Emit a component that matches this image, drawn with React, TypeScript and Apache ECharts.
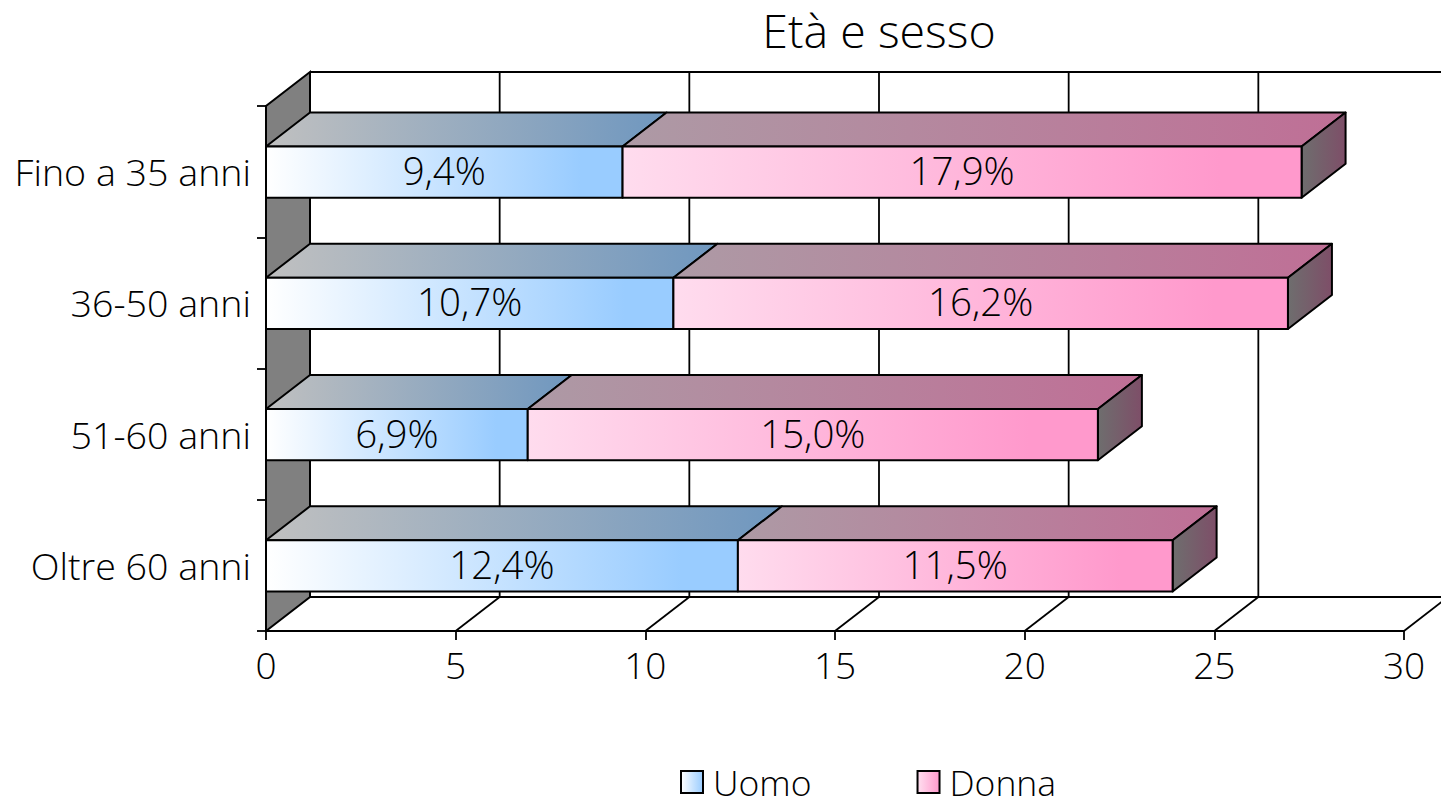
import React, { useEffect, useRef } from "react";
import * as echarts from "echarts";

const titleText = "Età e sesso";
const categories = ["Fino a 35 anni", "36-50 anni", "51-60 anni", "Oltre 60 anni"];
const uomo = [9.4, 10.74, 6.9, 12.44];
const donna = [17.9, 16.2, 15.03, 11.46];
const xTicks = [0, 5, 10, 15, 20, 25, 30];
const FONT = "Open Sans";
const WEIGHT = 300;
const DX = 44;
const DY = 34;
const BAR_RATIO = 0.39;

const grad = (a: string, b: string, mid = 1) =>
  new echarts.graphic.LinearGradient(0, 0, 1, 0, [
    { offset: 0, color: a },
    { offset: mid, color: b },
    { offset: 1, color: b },
  ]);

const pct = (v: number) => v.toFixed(1).replace(".", ",") + "%";

const barRender = (front: [string, string], top: [string, string], side: [string, string], mid: number, showSide: boolean) =>
  (params: any, api: any) => {
    const start = api.value(0);
    const end = api.value(1);
    const cat = api.value(2);
    const a = api.coord([start, cat]);
    const b = api.coord([end, cat]);
    const band = api.size([0, 1])[1];
    const h = band * BAR_RATIO;
    const x0 = a[0];
    const x1 = b[0];
    const yT = a[1] - h / 2 + 0.5;
    const yB = a[1] + h / 2 + 0.5;
    const stroke = { stroke: "#000", lineWidth: 2, lineJoin: "round" };
    const children: any[] = [
      {
        type: "polygon",
        shape: { points: [[x0, yT], [x0 + DX, yT - DY], [x1 + DX, yT - DY], [x1, yT]] },
        style: { fill: grad(top[0], top[1]), ...stroke },
      },
    ];
    if (showSide) {
      children.push({
        type: "polygon",
        shape: { points: [[x1, yT], [x1 + DX, yT - DY], [x1 + DX, yB - DY], [x1, yB]] },
        style: { fill: grad(side[0], side[1]), ...stroke },
      });
    }
    children.push({
      type: "rect",
      shape: { x: x0, y: yT, width: x1 - x0, height: h },
      style: { fill: grad(front[0], front[1], mid), ...stroke },
    });
    children.push({
      type: "text",
      style: {
        x: (x0 + x1) / 2,
        y: (yT + yB) / 2 - 2,
        text: pct(end - start),
        align: "center",
        verticalAlign: "middle",
        fill: "#000",
        font: `${WEIGHT} 38.5px "${FONT}"`,
      },
    });
    return { type: "group", children };
  };

const wallRender = (params: any, api: any) => {
  const v = api.value(0);
  const first = params.dataIndex === 0;
  const last = params.dataIndex === xTicks.length - 1;
  const cs = params.coordSys;
  const bottom = cs.y + cs.height;
  const top = cs.y;
  const x = api.coord([v, 0])[0];
  const line = { stroke: "#000", lineWidth: 2 };
  const children: any[] = [];
  if (first) {
    children.push({
      type: "polygon",
      shape: { points: [[x, bottom], [x + DX, bottom - DY], [x + DX, top - DY], [x, top]] },
      style: { fill: "#808080", ...line },
    });
    children.push({
      type: "line",
      shape: { x1: x + DX, y1: top - DY, x2: 1441, y2: top - DY },
      style: line,
    });
    children.push({
      type: "line",
      shape: { x1: x + DX, y1: bottom - DY, x2: 1441, y2: bottom - DY },
      style: line,
    });
  } else {
    children.push({
      type: "line",
      shape: { x1: x, y1: bottom, x2: x + DX, y2: bottom - DY },
      style: { stroke: "#000", lineWidth: 1.8 },
    });
    if (!last) {
      children.push({
        type: "line",
        shape: { x1: x + DX, y1: top - DY, x2: x + DX, y2: bottom - DY },
        style: { stroke: "#000", lineWidth: 1.8 },
      });
    }
  }
  return { type: "group", children };
};

export default function App() {
  const ref = useRef<HTMLDivElement>(null);
  useEffect(() => {
    const chart = echarts.init(ref.current!, undefined, { renderer: "svg" });
    chart.setOption({
      animation: false,
      backgroundColor: "#fff",
      title: {
        text: titleText,
        left: 879,
        top: 6,
        padding: 0,
        textAlign: "center",
        textStyle: { fontFamily: FONT, fontSize: 46.5, fontWeight: WEIGHT, color: "#000", lineHeight: 48 },
      },
      legend: {
        left: 675,
        top: 759,
        itemWidth: 22,
        itemHeight: 22,
        itemGap: 105,
        textStyle: { fontFamily: FONT, fontSize: 35.5, fontWeight: WEIGHT, color: "#000", padding: [0, 0, 0, 5], lineHeight: 32 },
        data: [
          { name: "Uomo", icon: "rect", itemStyle: { color: grad("#ffffff", "#99ccff"), borderColor: "#000", borderWidth: 2 } },
          { name: "Donna", icon: "rect", itemStyle: { color: grad("#ffe0f0", "#ff99cc"), borderColor: "#000", borderWidth: 2 } },
        ],
      },
      grid: { left: 266, top: 106, width: 1138, height: 525, containLabel: false },
      xAxis: {
        type: "value",
        min: 0,
        max: 30,
        interval: 5,
        splitLine: { show: false },
        axisLine: { show: true, lineStyle: { color: "#000", width: 2 } },
        axisTick: { show: true, length: 9, lineStyle: { color: "#000", width: 1.8 } },
        axisLabel: { color: "#000", fontFamily: FONT, fontWeight: WEIGHT, fontSize: 37, margin: 15 },
      },
      yAxis: {
        type: "category",
        inverse: true,
        data: categories,
        axisLine: { show: true, lineStyle: { color: "#000", width: 2 } },
        axisTick: { show: true, length: 9, lineStyle: { color: "#000", width: 1.8 } },
        axisLabel: { color: "#000", fontFamily: FONT, fontWeight: WEIGHT, fontSize: 37.6, margin: 15 },
      },
      series: [
        {
          type: "custom",
          name: "walls",
          silent: true,
          z: 1,
          renderItem: wallRender,
          encode: { x: 0 },
          data: xTicks.map((t) => [t]),
        },
        {
          type: "custom",
          name: "Uomo",
          z: 3,
          itemStyle: { color: "#99ccff" },
          renderItem: barRender(["#ffffff", "#99ccff"], ["#c0c0c0", "#6f97bf"], ["#6e6e6e", "#7e4e68"], 0.88, false),
          encode: { x: [0, 1], y: 2 },
          data: uomo.map((v, i) => [0, v, i]),
        },
        {
          type: "custom",
          name: "Donna",
          z: 4,
          itemStyle: { color: "#ff99cc" },
          renderItem: barRender(["#ffdcee", "#ff99cc"], ["#ad9aa5", "#bf6f96"], ["#6e6e6e", "#7e4e68"], 0.88, true),
          encode: { x: [0, 1], y: 2 },
          data: donna.map((v, i) => [uomo[i], uomo[i] + v, i]),
        },
      ],
    });
    return () => chart.dispose();
  }, []);
  return <div ref={ref} style={{ position: "absolute", left: 0, top: 0, width: 1441, height: 800 }} />;
}
